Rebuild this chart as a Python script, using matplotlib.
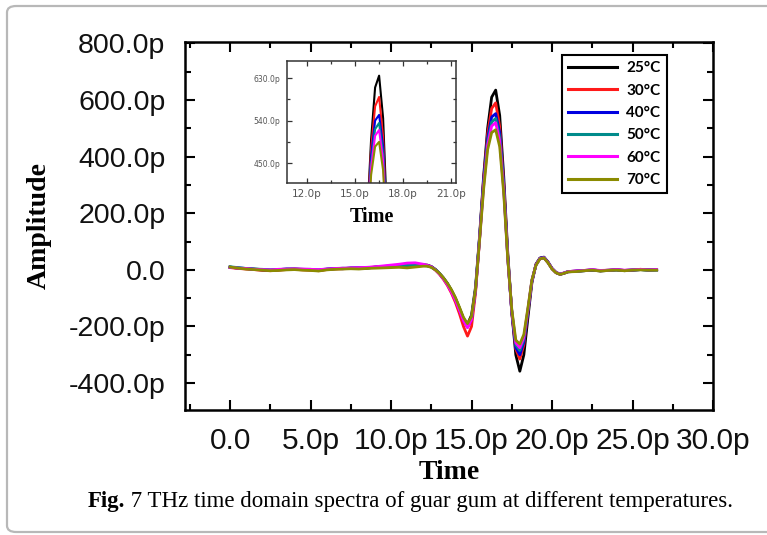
import matplotlib
matplotlib.use('Agg')
import matplotlib.pyplot as plt
from matplotlib.ticker import MultipleLocator, FuncFormatter
from matplotlib.patches import FancyBboxPatch

# time axis (ps)
t_ps = [0, 0.5, 1, 1.5, 2, 2.5, 3, 3.5, 4, 4.5, 5, 5.5, 6, 6.5, 7, 7.5, 8, 8.5, 9, 9.5, 10, 10.5, 11, 11.5, 12,
        12.25, 12.5, 12.75, 13, 13.25, 13.5, 13.75, 14, 14.25, 14.5, 14.75, 15, 15.25, 15.5, 15.75, 16,
        16.25, 16.5, 16.75, 17, 17.25, 17.5, 17.75, 18, 18.25, 18.5, 18.75, 19, 19.25, 19.5, 19.75, 20,
        20.25, 20.5, 20.75, 21,
        21.5, 22, 22.5, 23, 23.5, 24, 24.5, 25, 25.5, 26, 26.5]

# amplitude (p)
amp_25 = [10, 6, 4, 3, 1, -1, 0, 2, 3, 1, 0, -2, 2, 4, 5, 6, 5, 7, 9, 11, 12, 14, 15, 17, 18,
          17, 12, 2, -12, -28, -48, -72, -100, -135, -172, -192, -160, -60, 120, 330, 500,
          610, 635, 545, 330, 60, -150, -300, -358, -300, -170, -45, 20, 42, 45, 28, 5,
          -10, -16, -12, -7,
          -5, -3, -1, -4, -2, 0, -3, -1, 1, -1, 0]
amp_30 = [8, 5, 3, 1, -2, -3, -1, 1, 2, 0, -1, -3, 1, 3, 4, 5, 6, 8, 10, 12, 13, 15, 16, 18, 17,
          15, 10, 0, -15, -33, -55, -82, -115, -155, -200, -234, -200, -80, 110, 320, 480,
          570, 590, 505, 305, 50, -150, -280, -315, -265, -150, -40, 18, 40, 42, 26, 4,
          -10, -15, -11, -6,
          -4, -2, 0, -3, -1, 1, -2, 0, 2, 0, 1]
amp_40 = [9, 7, 5, 2, 0, -1, 1, 3, 2, 2, 1, 0, 3, 5, 4, 7, 8, 6, 10, 12, 14, 16, 18, 19, 17,
          15, 11, 1, -13, -30, -50, -75, -105, -140, -178, -203, -175, -70, 115, 315, 465,
          540, 552, 485, 300, 45, -150, -275, -300, -255, -148, -40, 18, 41, 44, 27, 5,
          -9, -15, -11, -6,
          -4, -3, 0, -3, -2, 0, -2, -1, 1, 0, 0]
amp_50 = [11, 8, 5, 3, 2, 0, 1, 3, 4, 2, 2, -1, 2, 4, 6, 5, 6, 7, 9, 11, 13, 15, 16, 17, 16,
          14, 10, 1, -12, -29, -48, -73, -102, -137, -174, -197, -170, -68, 112, 305, 450,
          522, 535, 468, 290, 45, -145, -265, -285, -245, -143, -38, 17, 40, 43, 26, 4,
          -9, -15, -11, -6,
          -5, -2, 0, -3, -1, 0, -2, 0, 1, -1, 0]
amp_60 = [9, 6, 5, 2, 1, 0, 2, 3, 4, 3, 2, 1, 3, 5, 6, 7, 8, 9, 11, 14, 17, 20, 24, 25, 20,
          16, 11, 0, -14, -31, -52, -78, -108, -143, -180, -204, -176, -72, 108, 295, 440,
          508, 520, 455, 282, 40, -145, -258, -275, -238, -140, -37, 17, 40, 43, 26, 4,
          -9, -15, -11, -6,
          -4, -2, 1, -2, -1, 1, -1, 0, 2, 0, 1]
amp_70 = [10, 6, 3, 1, -1, -3, -2, 0, 1, -1, -2, -4, 0, 2, 3, 4, 3, 5, 6, 7, 8, 9, 7, 10, 13,
          13, 9, 0, -12, -28, -47, -70, -98, -132, -168, -190, -165, -68, 105, 285, 425,
          485, 495, 435, 270, 38, -140, -248, -262, -228, -135, -35, 16, 39, 42, 25, 3,
          -10, -16, -12, -7,
          -6, -3, -1, -4, -2, -1, -3, -1, 0, -1, -1]

labels = ['25°C', '30°C', '40°C', '50°C', '60°C', '70°C']
series = [amp_25, amp_30, amp_40, amp_50, amp_60, amp_70]
colors = ['#000000', '#ff1a1a', '#0000e0', '#008b8b', '#ff00ff', '#8b8b00']

W, H = 767, 535
fig = plt.figure(figsize=(W / 100, H / 100), dpi=100)


def fig_box(x0, y0, x1, y1):
    return [x0 / W, 1 - y1 / H, (x1 - x0) / W, (y1 - y0) / H]


def p_fmt(v, pos):
    if abs(v) < 1e-9:
        return '0.0'
    return f'{v:.1f}p'


# outer frame
fig.patches.append(FancyBboxPatch((7 / W, 1 - 532 / H), 1.05, (532 - 6) / H,
                                  boxstyle='round,pad=0,rounding_size=0.012',
                                  transform=fig.transFigure, fill=False,
                                  edgecolor='#b8b8b8', linewidth=1.6))

# main axes
ax = fig.add_axes(fig_box(185, 42, 713, 410))
handles = []
for y, c, lab in zip(series, colors, labels):
    h, = ax.plot(t_ps, y, color=c, lw=2.0, label=lab)
    handles.append(h)

ax.set_xlim(-2.8, 30)
ax.set_ylim(-495, 805)
ax.xaxis.set_major_locator(MultipleLocator(5))
ax.xaxis.set_minor_locator(MultipleLocator(2.5))
ax.yaxis.set_major_locator(MultipleLocator(200))
ax.yaxis.set_minor_locator(MultipleLocator(100))
ax.xaxis.set_major_formatter(FuncFormatter(p_fmt))
ax.yaxis.set_major_formatter(FuncFormatter(p_fmt))
ax.tick_params(which='both', direction='in', top=True, right=True, width=1.5, color='black')
ax.tick_params(which='major', length=7)
ax.tick_params(which='minor', length=4.5)
ax.tick_params(axis='x', which='major', pad=12)
ax.tick_params(axis='y', which='major', pad=14)
for lab in ax.get_xticklabels():
    lab.set_fontfamily('Liberation Sans')
    lab.set_fontsize(21.5)
    lab.set_color('#111111')
for lab in ax.get_yticklabels():
    lab.set_fontfamily('Liberation Sans')
    lab.set_fontsize(20.5)
    lab.set_color('#111111')
for s in ax.spines.values():
    s.set_linewidth(1.8)

ax.set_xlabel('Time', fontfamily='Liberation Serif', fontweight='bold', fontsize=20, labelpad=4)
ax.set_ylabel('Amplitude', fontfamily='Liberation Serif', fontweight='bold', fontsize=20, labelpad=12)

leg = ax.legend(handles=handles, loc='upper left', bbox_to_anchor=(562 / W, 1 - 55 / H),
                bbox_transform=fig.transFigure, borderaxespad=0, fancybox=False,
                edgecolor='black', framealpha=1, handlelength=3.2, handletextpad=0.6,
                labelspacing=0.55, borderpad=0.4,
                prop={'family': 'Lato', 'weight': 'bold', 'size': 11})
leg.get_frame().set_linewidth(1.5)
for line in leg.get_lines():
    line.set_linewidth(2.2)

# inset
axi = fig.add_axes(fig_box(287, 61, 456, 183))
for y, c in zip(series, colors):
    axi.plot(t_ps, y, color=c, lw=1.5)
axi.set_xlim(10.75, 21.3)
axi.set_ylim(408, 666)
axi.xaxis.set_major_locator(MultipleLocator(3))
axi.xaxis.set_minor_locator(MultipleLocator(1.5))
axi.yaxis.set_major_locator(MultipleLocator(90))
axi.yaxis.set_minor_locator(MultipleLocator(45))
axi.xaxis.set_major_formatter(FuncFormatter(p_fmt))
axi.yaxis.set_major_formatter(FuncFormatter(p_fmt))
axi.tick_params(which='both', direction='in', top=True, right=True, width=0.9, color='#333333')
axi.tick_params(which='major', length=3.5)
axi.tick_params(which='minor', length=2.5)
axi.tick_params(axis='x', labelsize=7.5, pad=4, labelcolor='#555555')
axi.tick_params(axis='y', labelsize=5.5, pad=5, labelcolor='#555555')
for s in axi.spines.values():
    s.set_linewidth(1.1)
    s.set_color('#333333')
axi.set_xlabel('Time', fontfamily='Liberation Serif', fontweight='bold', fontsize=14.5, labelpad=6)

# caption: bold "Fig." followed by regular text
cap = fig.text(88 / W, 1 - 507 / H, 'Fig.', fontfamily='Liberation Serif', fontweight='bold',
               fontsize=16.5, va='baseline', ha='left')
fig.add_artist(plt.Annotation(' 7 THz time domain spectra of guar gum at different temperatures.',
                              xy=(1, 0), xycoords=cap, va='bottom', ha='left',
                              fontfamily='Liberation Serif', fontsize=16.5))

fig.savefig('out.png', dpi=100)
